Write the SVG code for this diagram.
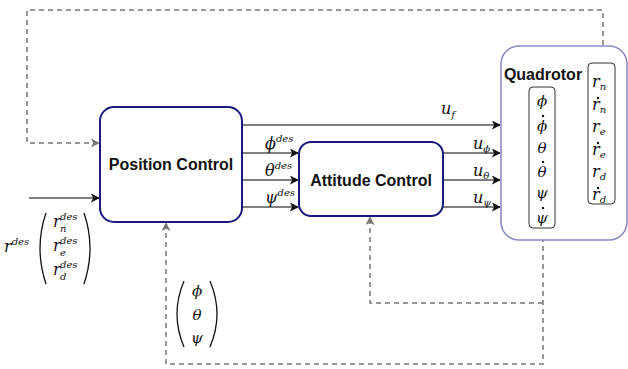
<svg xmlns="http://www.w3.org/2000/svg" width="628" height="369" viewBox="0 0 628 369">
<defs>
<marker id="ah" viewBox="0 0 10 10" refX="9" refY="5" markerWidth="9" markerHeight="9" markerUnits="userSpaceOnUse" orient="auto"><path d="M0,0 L10,5 L0,10 L2.5,5 z" fill="#111"/></marker>
<marker id="ahg" viewBox="0 0 10 10" refX="9" refY="5" markerWidth="9" markerHeight="9" markerUnits="userSpaceOnUse" orient="auto"><path d="M0,0 L10,5 L0,10 L2.5,5 z" fill="#777"/></marker>
<style>
.ctrl{fill:#fff;stroke:#1a1a7a;stroke-width:2}
.quad{fill:#fff;stroke:#8a8ac8;stroke-width:1.6}
.inner{fill:#fff;stroke:#333;stroke-width:1}
.lbl{font-family:"Liberation Sans",Arial,sans-serif;font-weight:bold;font-size:16px;fill:#111;text-anchor:middle}
.m{font-family:"DejaVu Serif","Liberation Serif",serif;font-style:italic;font-size:16px;fill:#111}
.mc{font-family:"DejaVu Serif","Liberation Serif",serif;font-style:italic;font-size:15px;fill:#111;text-anchor:middle}
.s{font-family:"DejaVu Serif","Liberation Serif",serif;font-style:italic;font-size:10px;fill:#111}
.sol{fill:none;stroke:#555;stroke-width:1.3}
.dash{fill:none;stroke:#777;stroke-width:1.5;stroke-dasharray:5,4}
.par{fill:none;stroke:#111;stroke-width:1.3}
.dot{fill:#111}
</style>
</defs>

<g id="connectors">
<path class="sol" d="M29,198 L99,198" marker-end="url(#ah)"/>
<path class="sol" d="M242,125 L500,125" marker-end="url(#ah)"/>
<path class="sol" d="M242,153 L298,153" marker-end="url(#ah)"/>
<path class="sol" d="M242,180 L298,180" marker-end="url(#ah)"/>
<path class="sol" d="M242,207 L298,207" marker-end="url(#ah)"/>
<path class="sol" d="M443,153 L500,153" marker-end="url(#ah)"/>
<path class="sol" d="M443,180 L500,180" marker-end="url(#ah)"/>
<path class="sol" d="M443,207 L500,207" marker-end="url(#ah)"/>
<path class="dash" d="M603,63 L603,10 L27,10 L27,143 L99,143" marker-end="url(#ahg)"/>
<path class="dash" d="M543,228 L543,364 L166,364 L166,223" marker-end="url(#ahg)"/>
<path class="dash" d="M543,303 L370,303 L370,217" marker-end="url(#ahg)"/>
</g>

<g id="position-control">
<rect class="ctrl" x="100" y="107" width="142" height="115" rx="14"/>
<text class="lbl" x="171" y="170">Position Control</text>
</g>

<g id="attitude-control">
<rect class="ctrl" x="299" y="142" width="144" height="74" rx="12"/>
<text class="lbl" x="371" y="186">Attitude Control</text>
</g>

<g id="quadrotor">
<rect class="quad" x="501" y="46" width="126" height="194" rx="18"/>
<text class="lbl" x="543" y="80">Quadrotor</text>
<rect class="inner" x="529" y="87" width="26" height="141" rx="4"/>
<rect class="inner" x="588" y="63" width="27" height="141" rx="4"/>
<text class="mc" x="542" y="106">ϕ</text>
<text class="mc" x="542" y="131">ϕ</text>
<circle class="dot" cx="543" cy="116" r="1.2"/>
<text class="mc" x="542" y="153">θ</text>
<text class="mc" x="542" y="177">θ</text>
<circle class="dot" cx="543" cy="162" r="1.2"/>
<text class="mc" x="542" y="198">ψ</text>
<text class="mc" x="542" y="223">ψ</text>
<circle class="dot" cx="543" cy="208" r="1.2"/>
<text class="m" x="592" y="87">r<tspan class="s" dy="3">n</tspan></text>
<text class="m" x="592" y="110">r<tspan class="s" dy="3">n</tspan></text>
<circle class="dot" cx="598" cy="98" r="1.2"/>
<text class="m" x="592" y="132">r<tspan class="s" dy="3">e</tspan></text>
<text class="m" x="592" y="155">r<tspan class="s" dy="3">e</tspan></text>
<circle class="dot" cx="598" cy="143" r="1.2"/>
<text class="m" x="592" y="177">r<tspan class="s" dy="3">d</tspan></text>
<text class="m" x="592" y="200">r<tspan class="s" dy="3">d</tspan></text>
<circle class="dot" cx="598" cy="188" r="1.2"/>
</g>

<g id="labels">
<text class="m" x="441" y="114">u<tspan class="s" dy="4">f</tspan></text>
<text class="m" x="265" y="149">ϕ<tspan class="s" font-size="11" dy="-7">des</tspan></text>
<text class="m" x="265" y="176">θ<tspan class="s" font-size="11" dy="-7">des</tspan></text>
<text class="m" x="265" y="203">ψ<tspan class="s" font-size="11" dy="-7">des</tspan></text>
<text class="m" x="473" y="149">u<tspan class="s" dy="3">ϕ</tspan></text>
<text class="m" x="473" y="176">u<tspan class="s" dy="3">θ</tspan></text>
<text class="m" x="473" y="203">u<tspan class="s" dy="3">ψ</tspan></text>

<text class="m" x="4" y="252">r<tspan class="s" font-size="11" dy="-7">des</tspan></text>
<path class="par" d="M46,213 Q34,248 46,284"/>
<path class="par" d="M84,213 Q96,248 84,284"/>
<text class="m" x="53" y="227">r</text><text class="s" x="60" y="220">des</text><text class="s" x="60" y="232">n</text>
<text class="m" x="53" y="251">r</text><text class="s" x="60" y="244">des</text><text class="s" x="60" y="256">e</text>
<text class="m" x="53" y="275">r</text><text class="s" x="60" y="268">des</text><text class="s" x="60" y="280">d</text>

<path class="par" d="M184,281 Q170,314 184,347"/>
<path class="par" d="M210,281 Q224,314 210,347"/>
<text class="mc" x="197" y="296">ϕ</text>
<text class="mc" x="197" y="320">θ</text>
<text class="mc" x="197" y="343">ψ</text>
</g>
</svg>
